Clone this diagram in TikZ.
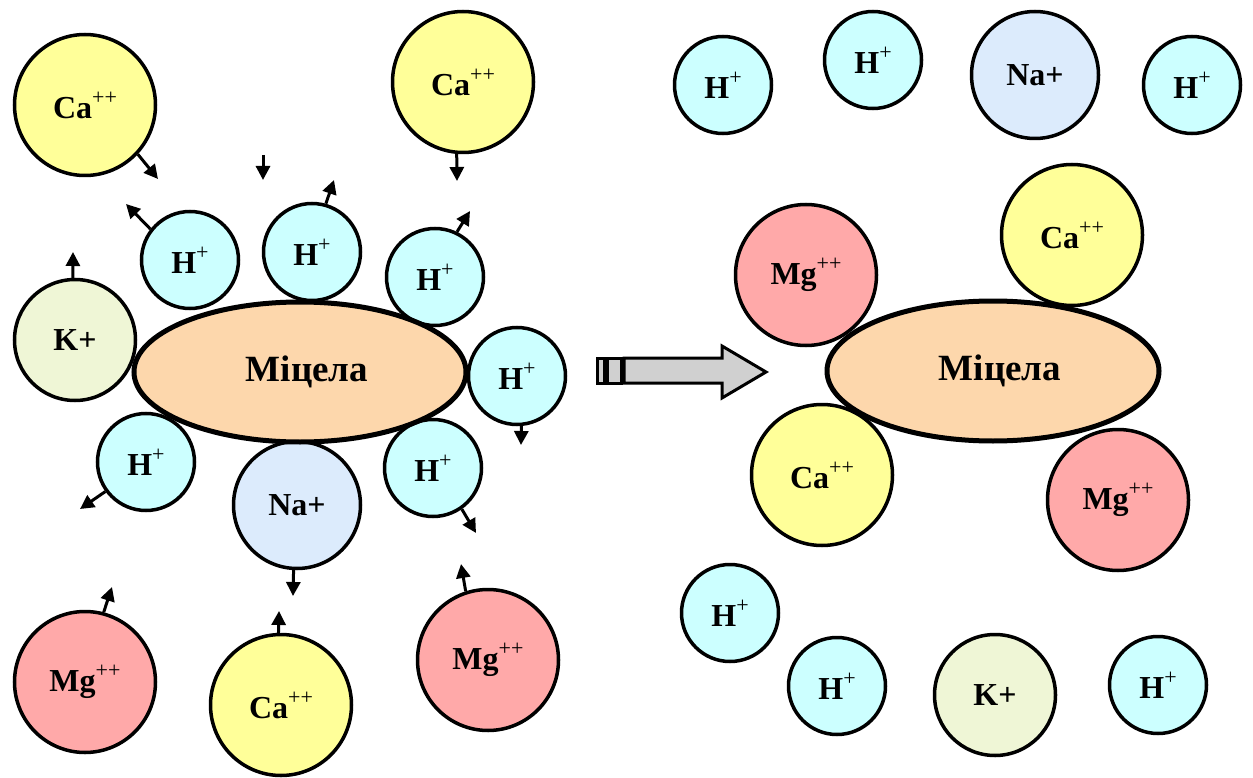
\documentclass[tikz,border=0pt]{standalone}
\usepackage{fontspec}
\setmainfont{Liberation Serif}
\usetikzlibrary{shapes.geometric,arrows.meta}

\definecolor{hfill}{HTML}{CCFFFF}
\definecolor{cafill}{HTML}{FFFF99}
\definecolor{mgfill}{HTML}{FFA9A9}
\definecolor{nafill}{HTML}{DCEBFC}
\definecolor{kfill}{HTML}{EFF6D6}
\definecolor{micfill}{HTML}{FDD7AC}
\definecolor{blockgray}{HTML}{D0D0D0}

% charge written as a raised, lighter superscript
\newcommand\ioncharge[1]{\raisebox{14pt}{\fontsize{22}{22}\selectfont\mdseries #1}}

\tikzset{
  ion/.style={circle, draw=black, line width=3.5pt, inner sep=0pt,
              font=\fontsize{32}{38}\selectfont\bfseries},
  hion/.style={ion, fill=hfill, minimum size=97pt},
  caion/.style={ion, fill=cafill, minimum size=141pt},
  mgion/.style={ion, fill=mgfill, minimum size=141pt},
  naion/.style={ion, fill=nafill, minimum size=127pt},
  kion/.style={ion, fill=kfill, minimum size=121pt},
  micelle/.style={ellipse, draw=black, line width=5pt, fill=micfill,
                  inner sep=0pt, minimum width=332pt, minimum height=140pt,
                  font=\fontsize{37}{42}\selectfont\bfseries},
  drift/.style={line width=3pt, -{Triangle[length=14pt,width=14pt]}},
  block/.style={line width=3pt, draw=black, fill=blockgray},
}

\begin{document}
\begin{tikzpicture}[x=1pt,y=-1pt]
\useasboundingbox (0,0) rectangle (1253,778);

% ---------- left: micelle surrounded by exchangeable ions ----------
\node[caion] (caA) at (85,105) {Ca\ioncharge{++}};
\node[caion] (caB) at (463,82) {Ca\ioncharge{++}};
\node[hion]  (hA)  at (190,260) {H\ioncharge{+}};
\node[hion]  (hB)  at (312,252) {H\ioncharge{+}};
\node[hion]  (hC)  at (435,277) {H\ioncharge{+}};
\node[hion]  (hD)  at (517,376) {H\ioncharge{+}};
\node[hion]  (hE)  at (146,462) {H\ioncharge{+}};
\node[hion]  (hF)  at (433,468) {H\ioncharge{+}};
\node[kion]  (kA)  at (75,340) {K+};
\node[naion] (naA) at (297,505) {Na+};
\node[mgion] (mgA) at (85,682) {Mg\ioncharge{++}};
\node[caion] (caC) at (281,705) {Ca\ioncharge{++}};
\node[mgion] (mgB) at (488,660) {Mg\ioncharge{++}};
\node[micelle] (micL) at (300,372) {\hspace*{14pt}Міцела};

% tips of the drift arrows
\coordinate (t1)  at (158,179);
\coordinate (s2)  at (263,155);
\coordinate (t2)  at (263,180);
\coordinate (t3)  at (457,181);
\coordinate (t4)  at (126,204);
\coordinate (t5)  at (334,180);
\coordinate (t6)  at (470,211);
\coordinate (t7)  at (73,252);
\coordinate (t8)  at (521,445);
\coordinate (t9)  at (80,509);
\coordinate (t10) at (293,596);
\coordinate (t11) at (476,533);
\coordinate (t12) at (112,587);
\coordinate (t13) at (279,611);
\coordinate (t14) at (461,564);

\draw[drift] (caA.-43)  -- (t1);
\draw[drift] (s2)       -- (t2);
\draw[drift] (caB.-95)  -- (t3);
\draw[drift] (hA.142)   -- (t4);
\draw[drift] (hB.74)    -- (t5);
\draw[drift] (hC.64)    -- (t6);
\draw[drift] (kA.92)    -- (t7);
\draw[drift] (hD.-85)   -- (t8);
\draw[drift] (hE.216)   -- (t9);
\draw[drift] (naA.-93)  -- (t10);
\draw[drift] (hF.-55)   -- (t11);
\draw[drift] (mgA.75)   -- (t12);
\draw[drift] (caC.92)   -- (t13);
\draw[drift] (mgB.108)  -- (t14);

% ---------- block arrow ----------
\draw[block] (597,358) rectangle (604,383);
\draw[block] (607,358) rectangle (621,383);
\draw[block] (624,358) -- (722,358) -- (722,346) -- (766,372)
             -- (722,398) -- (722,383) -- (624,383) -- cycle;

% ---------- right: micelle after exchange ----------
\node[hion]  (hG)  at (723,85)  {H\ioncharge{+}};
\node[hion]  (hH)  at (873,60)  {H\ioncharge{+}};
\node[naion] (naB) at (1035,75) {Na+};
\node[hion]  (hI)  at (1192,85) {H\ioncharge{+}};
\node[mgion] (mgC) at (806,275) {Mg\ioncharge{++}};
\node[caion] (caD) at (1072,235) {Ca\ioncharge{++}};
\node[caion] (caE) at (822,475) {Ca\ioncharge{++}};
\node[mgion] (mgD) at (1118,500) {Mg\ioncharge{++}};
\node[hion]  (hJ)  at (730,613) {H\ioncharge{+}};
\node[hion]  (hK)  at (837,686) {H\ioncharge{+}};
\node[kion]  (kB)  at (995,695) {K+};
\node[hion]  (hL)  at (1158,685) {H\ioncharge{+}};
\node[micelle] (micR) at (993,371) {\hspace*{14pt}Міцела};
\end{tikzpicture}
\end{document}
